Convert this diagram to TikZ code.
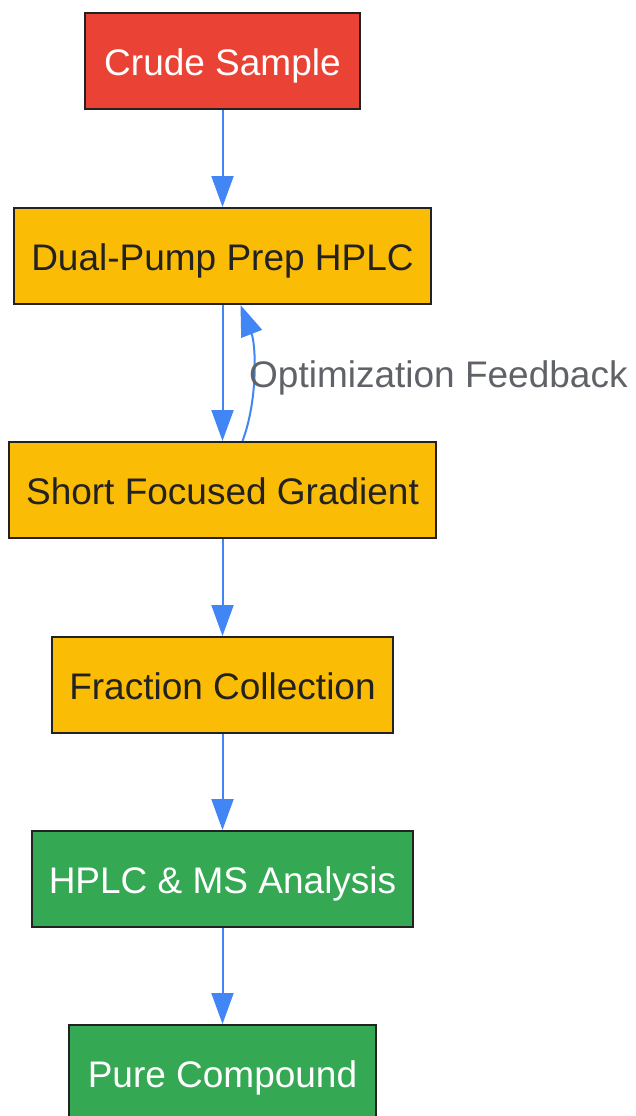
\documentclass[tikz,border=0pt]{standalone}
\usepackage{fontspec}
\setmainfont{Liberation Sans}
\usetikzlibrary{arrows.meta}
\definecolor{cred}{HTML}{EA4335}
\definecolor{cyellow}{HTML}{FBBC05}
\definecolor{cgreen}{HTML}{34A853}
\definecolor{cblue}{HTML}{4285F4}
\definecolor{cborder}{HTML}{222222}
\definecolor{clabel}{HTML}{5F6368}
\tikzset{
  box/.style={draw=cborder, line width=2pt, minimum height=96pt, inner sep=0pt, text height=35pt, text depth=7pt, font=\fontsize{37}{44}\selectfont},
  redbox/.style={box, fill=cred, text=white},
  yellowbox/.style={box, fill=cyellow, text=cborder},
  greenbox/.style={box, fill=cgreen, text=white},
  flow/.style={draw=cblue, line width=2pt, -{Triangle[length=31pt, width=22pt]}},
  fblabel/.style={text=clabel, font=\fontsize{37}{44}\selectfont, inner sep=0pt, anchor=west}
}
\begin{document}
\begin{tikzpicture}[x=1pt, y=-1pt]
\useasboundingbox (0,0) rectangle (635,1116);
\clip (0,0) rectangle (635,1116);
\node[redbox, minimum width=275pt] (a) at (222.5,61) {Crude Sample};
\node[yellowbox, minimum width=417pt] (b) at (222.5,256) {Dual-Pump Prep HPLC};
\node[yellowbox, minimum width=427pt] (c) at (222.5,490) {Short Focused Gradient};
\node[yellowbox, minimum width=341pt] (d) at (222.5,685) {Fraction Collection};
\node[greenbox, minimum width=381pt] (e) at (222.5,879) {HPLC \& MS Analysis};
\node[greenbox, minimum width=307pt] (f) at (222.5,1073) {Pure Compound};
\draw[flow] (a) -- (b);
\draw[flow] (b) -- (c);
\draw[flow] (c) -- (d);
\draw[flow] (d) -- (e);
\draw[flow] (e) -- (f);
\draw[flow] ([xshift=20pt]c.north) .. controls (258,400) and (256,345) .. ([xshift=18pt]b.south);
\node[fblabel] (lbl) at (249,378) {Optimization Feedback};
\end{tikzpicture}
\end{document}
